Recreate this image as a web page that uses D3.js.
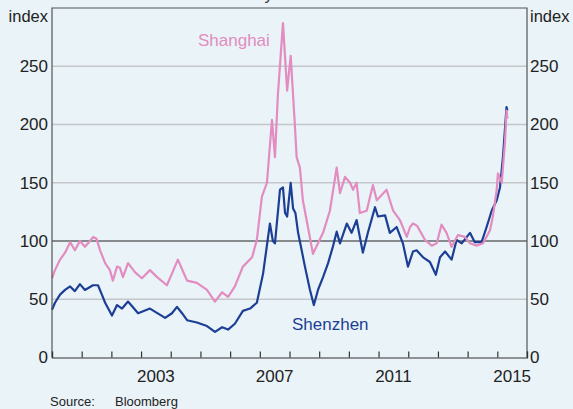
<!DOCTYPE html>
<html>
<head>
<meta charset="utf-8">
<script src="https://cdn.jsdelivr.net/npm/d3@7"></script>
<style>
  html, body { margin: 0; padding: 0; background: #eaf3f8; }
  svg { display: block; font-family: "Liberation Sans", Arial, sans-serif; }
</style>
</head>
<body>
<svg id="chart" width="573" height="409"></svg>
<script>
// ---- Data (decimal years, index values) ----
const shanghaiDates = [2000.00,2000.10,2000.27,2000.44,2000.61,2000.77,2000.94,2001.11,2001.28,2001.39,2001.50,2001.62,2001.79,2001.95,2002.05,2002.19,2002.29,2002.39,2002.56,2002.80,2003.03,2003.30,2003.54,2003.87,2004.04,2004.24,2004.41,2004.55,2004.88,2005.22,2005.49,2005.73,2005.93,2006.16,2006.43,2006.74,2006.90,2007.07,2007.24,2007.41,2007.51,2007.61,2007.78,2007.92,2008.04,2008.18,2008.24,2008.35,2008.45,2008.62,2008.79,2008.96,2009.13,2009.36,2009.59,2009.70,2009.87,2010.04,2010.14,2010.26,2010.37,2010.60,2010.81,2010.94,2011.27,2011.49,2011.72,2011.95,2012.06,2012.16,2012.30,2012.56,2012.79,2012.96,2013.12,2013.29,2013.46,2013.67,2013.91,2014.08,2014.30,2014.52,2014.75,2014.85,2014.98,2015.02,2015.15,2015.26,2015.31,2015.34];
const shanghaiValues = [68,75,84,90,99,92,100,95,100,103.5,102,92,81,75,66,78,77,69,81,73,68,75,69,62,72,84,74,66,64,58,48,56,52,61,78,86,101,138,150,204,172,226,287,229,259,200,172,163,135,112,89,98,107,126,163,141,155,150,144,150,124,126,148,135,144,126,118,103.5,112,115,113,101,96,98,114,107,95,105,103.5,98,96,98,109,121,144,158,150,186,212,205];

const shenzhenDates = [2000.00,2000.10,2000.27,2000.44,2000.61,2000.77,2000.94,2001.11,2001.38,2001.55,2001.68,2001.79,2002.02,2002.19,2002.36,2002.56,2002.90,2003.30,2003.81,2004.04,2004.21,2004.38,2004.55,2004.88,2005.22,2005.49,2005.73,2005.93,2006.16,2006.43,2006.67,2006.90,2007.11,2007.34,2007.44,2007.51,2007.68,2007.78,2007.85,2007.92,2008.04,2008.12,2008.20,2008.29,2008.41,2008.52,2008.69,2008.82,2008.96,2009.13,2009.30,2009.46,2009.59,2009.70,2009.93,2010.09,2010.26,2010.47,2010.64,2010.88,2010.98,2011.22,2011.38,2011.61,2011.82,2011.99,2012.16,2012.28,2012.50,2012.73,2012.93,2013.07,2013.24,2013.46,2013.63,2013.80,2014.08,2014.24,2014.47,2014.64,2014.81,2014.98,2015.09,2015.19,2015.31,2015.34];
const shenzhenValues = [41,47,54,58,61,57,63,58,62,62,54,47,36,45,42,48,38,42,34,38,43.5,38,32,30,27,22,26,24,29,40,42,47,72,115,100,98,144,146,124,121,150,128,124,107,92,78,58,45,58,69,81,95,108,98,115,107,118,90,107,129,121,122,107,112,98,78,91,92,86,82,71,86,91,84,101,98,107,99,99,112,126,135,146,172,215,212];

const yTicks = [0, 50, 100, 150, 200, 250];
const xLabelYears = [2003, 2007, 2011, 2015];
const xTickYears = d3.range(2000, 2017);

// ---- Layout ----
const svg = d3.select("#chart");
const plotL = 52, plotR = 527, plotT = 8, plotB = 357.5;
const x = d3.scaleLinear().domain([2000, 2016]).range([plotL, plotR]);
const y = d3.scaleLinear().domain([0, 300]).range([plotB, plotT]);

const pink = "#e28cc0", blue = "#1c3f95";

// title fragment (clipped at top, as in the reference)
svg.append("text").attr("x", 296).attr("y", 0).attr("text-anchor", "middle")
  .attr("font-size", 17).attr("fill", "#444").text("1 July 2014 = 100");

// plot background
svg.append("rect").attr("x", plotL).attr("y", plotT).attr("width", plotR - plotL).attr("height", plotB - plotT)
  .attr("fill", "#eaf3f8");

// gridlines
svg.append("g").selectAll("line").data(yTicks.filter(d => d !== 0 && d !== 100)).join("line")
  .attr("x1", plotL).attr("x2", plotR).attr("y1", d => y(d)).attr("y2", d => y(d))
  .attr("stroke", "#c4c7c9").attr("stroke-width", 1.3);

// 100 reference line
svg.append("line").attr("x1", plotL).attr("x2", plotR).attr("y1", y(100)).attr("y2", y(100))
  .attr("stroke", "#222").attr("stroke-width", 1);

// lines
const line = d3.line().x(d => x(d[0])).y(d => y(d[1]));
const szData = shenzhenDates.map((d, i) => [d, shenzhenValues[i]]);
const shData = shanghaiDates.map((d, i) => [d, shanghaiValues[i]]);
svg.append("path").datum(szData).attr("d", line).attr("fill", "none")
  .attr("stroke", blue).attr("stroke-width", 2.2).attr("stroke-linejoin", "round");
svg.append("path").datum(shData).attr("d", line).attr("fill", "none")
  .attr("stroke", pink).attr("stroke-width", 2.2).attr("stroke-linejoin", "round");

// frame
svg.append("path")
  .attr("d", `M${plotL},${plotB}V${plotT}H${plotR}V${plotB}`)
  .attr("fill", "none").attr("stroke", "#555").attr("stroke-width", 1.2);

// x axis
const xAxis = d3.axisBottom(x).tickValues(xTickYears).tickSize(-6).tickFormat("");
const gx = svg.append("g").attr("transform", `translate(0,${plotB})`).call(xAxis);
gx.select(".domain").attr("stroke", "#333").attr("stroke-width", 1.2);
gx.selectAll(".tick line").attr("stroke", "#333").attr("stroke-width", 1.2);

svg.append("g").selectAll("text").data(xLabelYears).join("text")
  .attr("x", d => x(d + 0.5)).attr("y", 382).attr("text-anchor", "middle")
  .attr("font-size", 17).attr("fill", "#222").text(d => d);

// y axes labels
const yl = d3.axisLeft(y).tickValues(yTicks).tickSize(0).tickPadding(4);
const gyl = svg.append("g").attr("transform", `translate(${plotL},0)`).call(yl);
gyl.select(".domain").remove();
gyl.selectAll("text").attr("font-size", 17).attr("fill", "#222").attr("font-family", "Liberation Sans, Arial, sans-serif");

const yr = d3.axisRight(y).tickValues(yTicks).tickSize(0).tickPadding(3);
const gyr = svg.append("g").attr("transform", `translate(${plotR},0)`).call(yr);
gyr.select(".domain").remove();
gyr.selectAll("text").attr("font-size", 17).attr("fill", "#222").attr("font-family", "Liberation Sans, Arial, sans-serif");

svg.append("text").attr("x", 48).attr("y", 22).attr("text-anchor", "end")
  .attr("font-size", 16.5).attr("fill", "#222").text("index");
svg.append("text").attr("x", 530).attr("y", 22).attr("text-anchor", "start")
  .attr("font-size", 16.5).attr("fill", "#222").text("index");

// series labels
svg.append("text").attr("x", 198).attr("y", 46).attr("font-size", 17).attr("fill", pink).text("Shanghai");
svg.append("text").attr("x", 292).attr("y", 330).attr("font-size", 17).attr("fill", blue).text("Shenzhen");

// source
svg.append("text").attr("x", 50).attr("y", 406).attr("font-size", 13).attr("fill", "#222").text("Source:");
svg.append("text").attr("x", 115).attr("y", 406).attr("font-size", 13).attr("fill", "#222").text("Bloomberg");
</script>
</body>
</html>
